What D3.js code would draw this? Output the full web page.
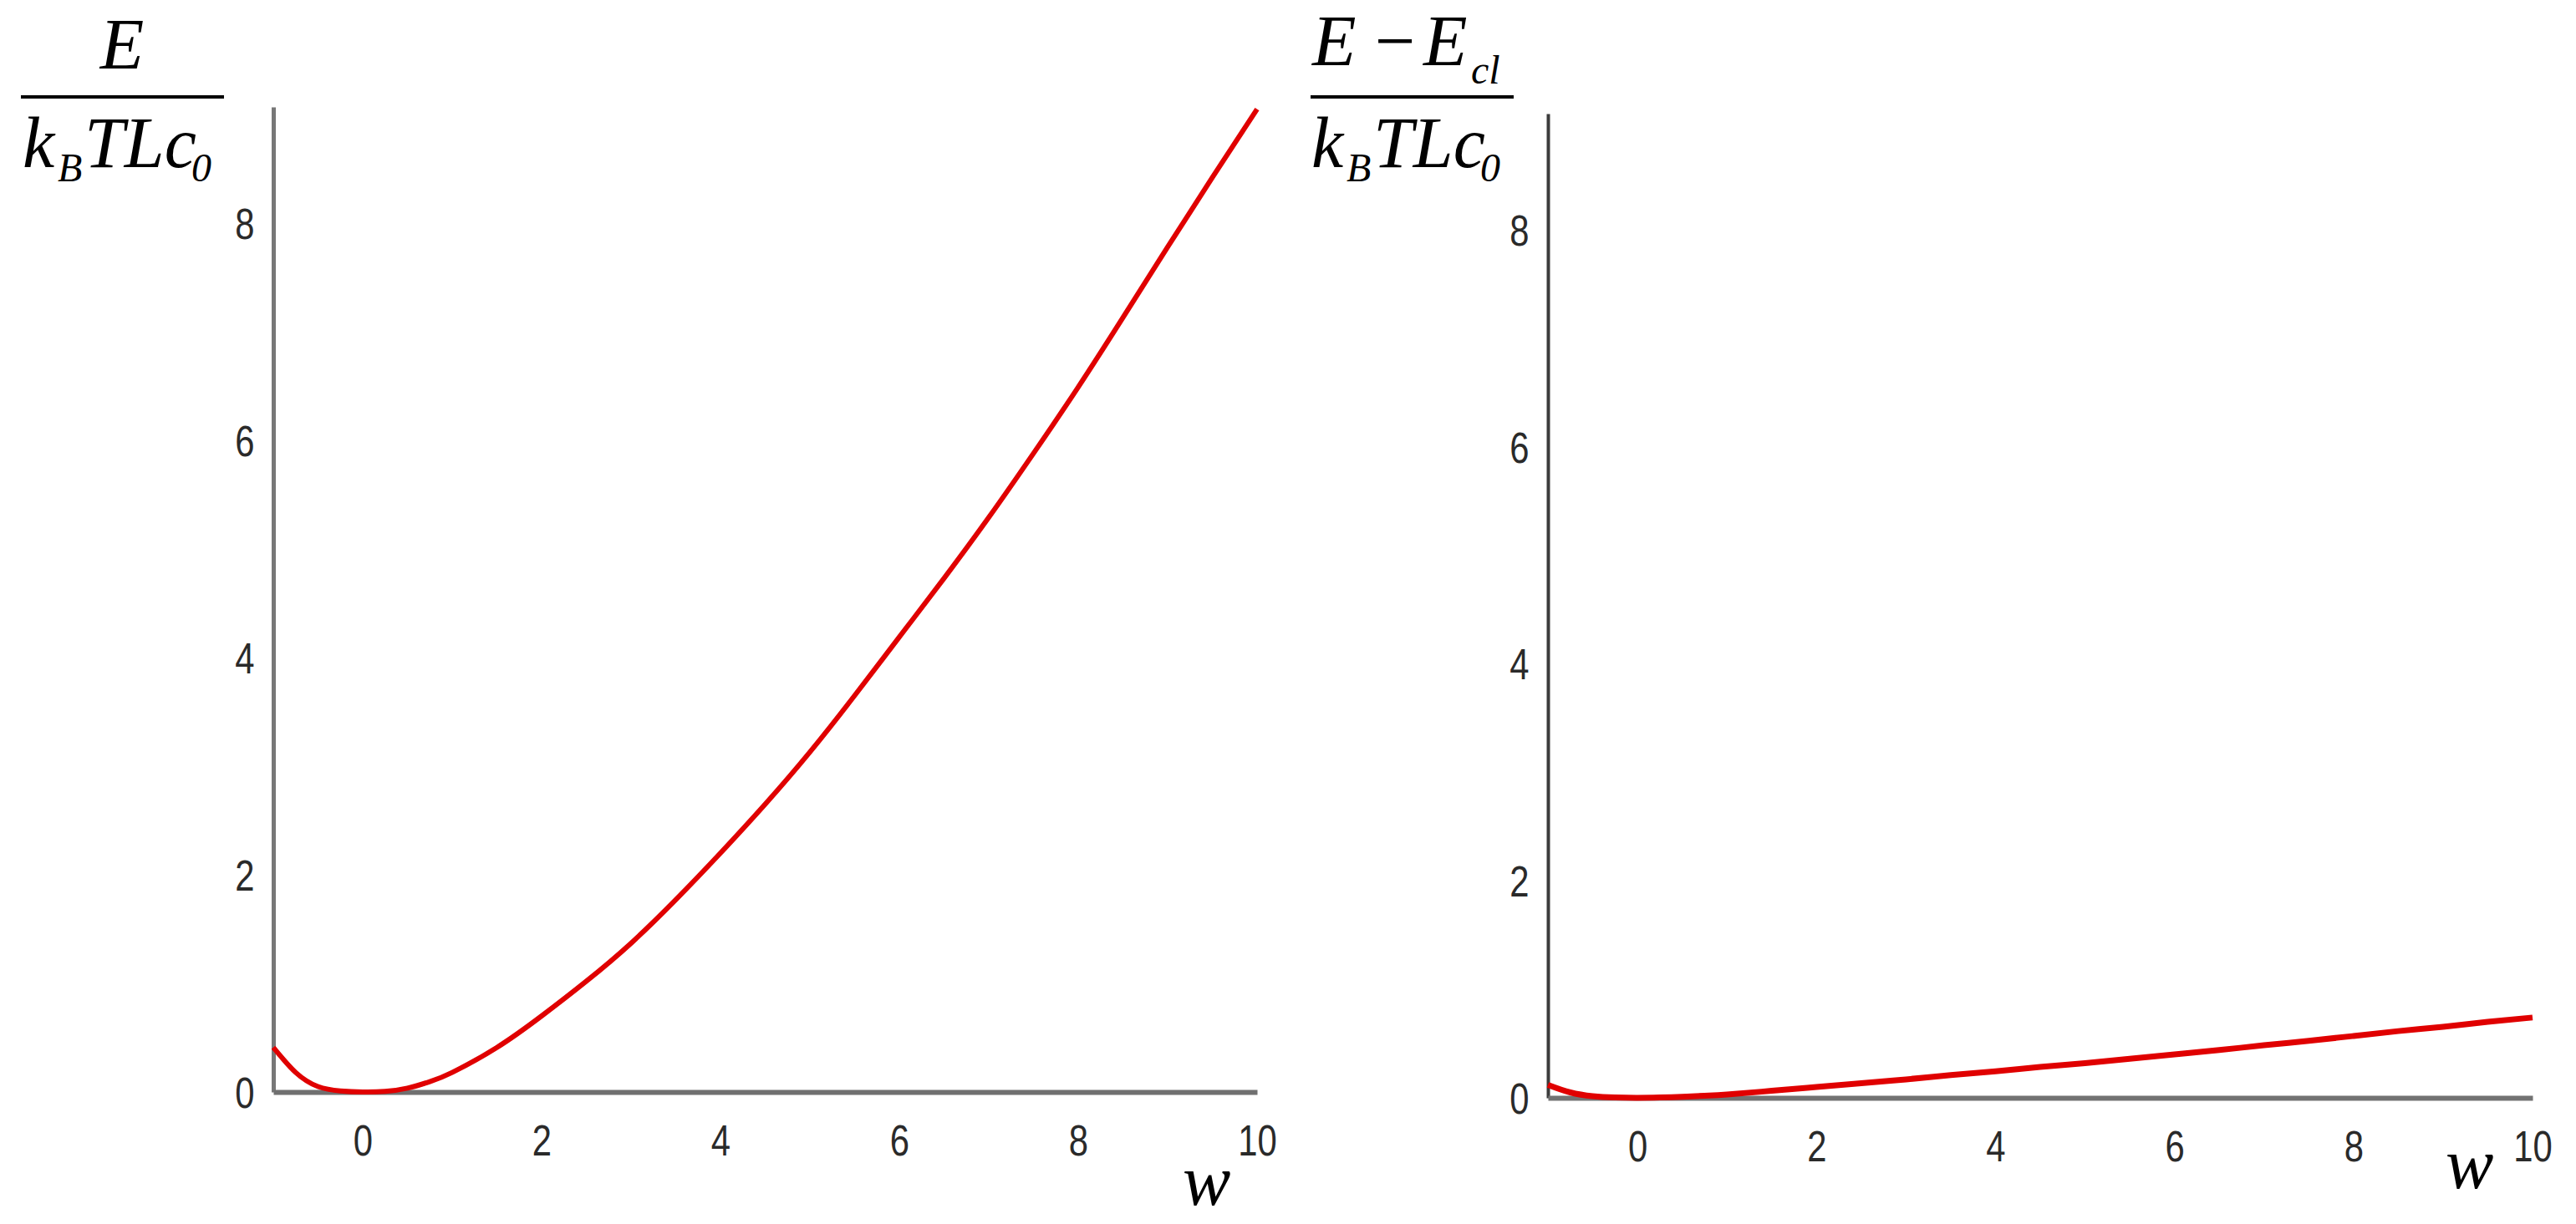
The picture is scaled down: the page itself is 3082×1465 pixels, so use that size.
<!DOCTYPE html>
<html>
<head>
<meta charset="utf-8">
<script src="https://cdn.jsdelivr.net/npm/d3@7"></script>
<style>
  html, body { margin: 0; padding: 0; background: #fff; }
  svg { display: block; }
</style>
</head>
<body>
<svg id="chart" width="3082" height="1465"></svg>
<script>
// ---- data ----
const wValues = [-1, -0.75, -0.5, -0.25, 0, 0.25, 0.5, 0.75, 1, 1.5, 2, 2.5, 3, 3.5, 4, 4.5, 5, 5.5, 6, 6.5, 7, 7.5, 8, 8.5, 9, 9.5, 10];
const energyTotal = [0.41, 0.18, 0.05, 0.01, 0, 0.005, 0.035, 0.095, 0.18, 0.41, 0.70, 1.02, 1.37, 1.77, 2.20, 2.65, 3.13, 3.65, 4.19, 4.73, 5.29, 5.88, 6.49, 7.13, 7.78, 8.42, 9.05];
const energyExcess = [0.12, 0.05, 0.015, 0.003, 0, 0.003, 0.01, 0.02, 0.03, 0.065, 0.10, 0.135, 0.17, 0.21, 0.245, 0.285, 0.32, 0.36, 0.40, 0.44, 0.485, 0.525, 0.57, 0.615, 0.655, 0.70, 0.74];
const xTicks = [0, 2, 4, 6, 8, 10];
const yTicks = [0, 2, 4, 6, 8];
const xDomain = [-1, 10];
const yDomain = [0, 9.07];

const svg = d3.select("#chart");
svg.append("rect").attr("width", 3082).attr("height", 1465).attr("fill", "#fff");

const panels = [
  { values: energyTotal, x0: 327, x1: 1504, yBottom: 1307, yTop: 128,
    yAxisColor: "#777777", yAxisWidth: 5, xAxisColor: "#707070", xAxisWidth: 6,
    lineWidth: 6, wX: 1415, wY: 1442 },
  { values: energyExcess, x0: 1852, x1: 3030, yBottom: 1314, yTop: 136,
    yAxisColor: "#3c3c3c", yAxisWidth: 4, xAxisColor: "#727272", xAxisWidth: 6,
    lineWidth: 7, wX: 2926, wY: 1422 }
];

const tickFont = "'Liberation Sans', Arial, sans-serif";
const mathFont = "'Liberation Serif', 'Times New Roman', serif";

panels.forEach(p => {
  const x = d3.scaleLinear().domain(xDomain).range([p.x0, p.x1]);
  const y = d3.scaleLinear().domain(yDomain).range([p.yBottom, p.yTop]);
  const g = svg.append("g");

  // y axis
  const ya = g.append("g").attr("transform", `translate(${p.x0},0)`)
    .call(d3.axisLeft(y).tickValues(yTicks).tickSize(0).tickSizeOuter(0));
  ya.select(".domain").attr("stroke", p.yAxisColor).attr("stroke-width", p.yAxisWidth);
  ya.selectAll("text")
    .attr("x", 0).attr("dy", "0.36em")
    .attr("text-anchor", "middle")
    .attr("transform", "translate(-34,0) scale(0.82,1)")
    .attr("font-family", tickFont).attr("font-size", 51).attr("fill", "#2a2a2a");

  // x axis
  const xa = g.append("g").attr("transform", `translate(0,${p.yBottom})`)
    .call(d3.axisBottom(x).tickValues(xTicks).tickSize(0).tickSizeOuter(0));
  xa.select(".domain").attr("stroke", p.xAxisColor).attr("stroke-width", p.xAxisWidth);
  xa.selectAll("text")
    .attr("y", 0).attr("dy", "0.36em")
    .attr("text-anchor", "middle")
    .attr("transform", "translate(0,58) scale(0.82,1)")
    .attr("font-family", tickFont).attr("font-size", 51).attr("fill", "#2a2a2a");

  // curve
  const line = d3.line()
    .x((d, i) => x(wValues[i]))
    .y(d => y(d))
    .curve(d3.curveNatural);
  g.append("path").datum(p.values)
    .attr("d", line)
    .attr("fill", "none")
    .attr("stroke", "#e00000")
    .attr("stroke-width", p.lineWidth)
    .attr("stroke-linejoin", "round")
    .attr("stroke-linecap", "butt");

  // axis label w
  g.append("text").attr("x", p.wX).attr("y", p.wY)
    .attr("font-family", mathFont).attr("font-style", "italic")
    .attr("font-size", 86).attr("fill", "#000").text("w");
});

// ---- math text helper ----
function mtext(x, y, s, size, italic) {
  return svg.append("text").attr("x", x).attr("y", y)
    .attr("font-family", mathFont)
    .attr("font-style", italic === false ? "normal" : "italic")
    .attr("font-size", size).attr("fill", "#000").text(s);
}

// ---- denominators k_B T L c_0 ----
function denominator(x0) {
  mtext(x0, 200, "k", 86);
  mtext(x0 + 42, 217, "B", 48);
  mtext(x0 + 74, 200, "TLc", 86);
  mtext(x0 + 202, 217, "0", 48);
}

// left: E / (k_B T L c_0)
mtext(146, 82, "E", 86).attr("text-anchor", "middle");
svg.append("line").attr("x1", 25).attr("x2", 268).attr("y1", 116).attr("y2", 116)
  .attr("stroke", "#000").attr("stroke-width", 4);
denominator(27);

// right: (E - E_cl) / (k_B T L c_0)
mtext(1570, 78, "E", 86);
mtext(1645, 78, "\u2212", 86, false);
mtext(1703, 78, "E", 86);
mtext(1760, 100, "cl", 48);
svg.append("line").attr("x1", 1568).attr("x2", 1811).attr("y1", 116).attr("y2", 116)
  .attr("stroke", "#000").attr("stroke-width", 4);
denominator(1569);
</script>
</body>
</html>
